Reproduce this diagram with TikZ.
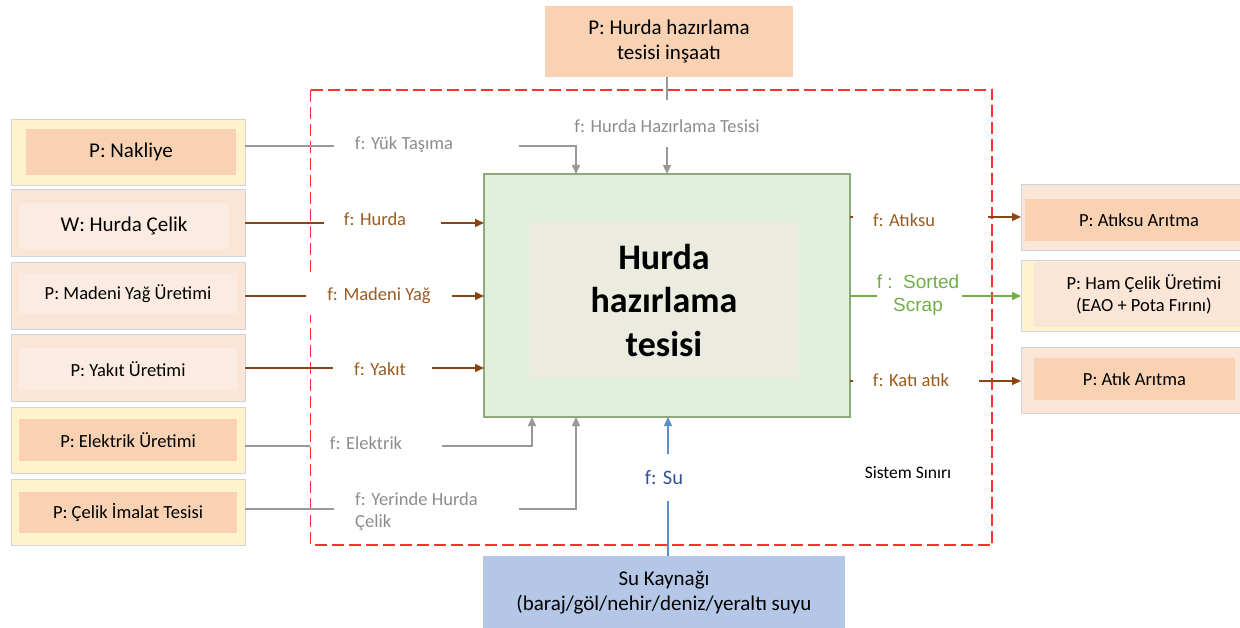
\documentclass[tikz,border=0pt]{standalone}
\usepackage{fontspec}
\setmainfont{Carlito}
\newfontfamily\arialf{Liberation Sans}
\usetikzlibrary{arrows.meta}
\definecolor{cYel}{HTML}{FFF2CC}
\definecolor{cLight}{HTML}{FBE5D6}
\definecolor{cLighter}{HTML}{FCEBE0}
\definecolor{cPeach}{HTML}{F9D2B3}
\definecolor{cBord}{HTML}{CDD4DE}
\definecolor{cGreenF}{HTML}{E2EFDA}
\definecolor{cGreenB}{HTML}{8EA97C}
\definecolor{cBeige}{HTML}{ECEBE0}
\definecolor{cBlueF}{HTML}{B4C7E7}
\definecolor{cGray}{HTML}{999999}
\definecolor{cGrayT}{HTML}{8C8C8C}
\definecolor{cBrown}{HTML}{8B4513}
\definecolor{cBrownT}{HTML}{9A5A20}
\definecolor{cGreen}{HTML}{70AD47}
\definecolor{cBlue}{HTML}{5B8FC9}
\definecolor{cBlueT}{HTML}{2F5597}
\definecolor{cRed}{HTML}{FF3030}
\newcommand\fsBig{\fontsize{21}{25}\selectfont}
\newcommand\fsMid{\fontsize{18.5}{22}\selectfont}
\newcommand\fsLab{\fontsize{18.5}{22}\selectfont}
\newcommand\fsHuge{\fontsize{36}{43.5}\selectfont}
\begin{document}
\begin{tikzpicture}[x=1pt,y=-1pt,
  box/.style={rectangle,inner sep=0pt,outer sep=0pt,draw=none},
  obox/.style={box,draw=cBord,line width=0.8pt,minimum width=234pt},
  arr/.style={-{Triangle[length=9pt,width=8pt]}},
  lab/.style={inner sep=0pt,font=\fsLab},
  glab/.style={lab,text=cGrayT},
  blab/.style={lab,text=cBrownT},
  gline/.style={draw=cGray,line width=1.5pt},
  bline/.style={draw=cBrown,line width=1.5pt},
  grline/.style={draw=cGreen,line width=1.5pt},
  sline/.style={draw=cBlue,line width=1.5pt}]
\useasboundingbox (0,0) rectangle (1240,628);
\clip (0,0) rectangle (1240,628);

% system boundary
\draw[cRed,line width=1.3pt,dash pattern=on 12pt off 5pt] (310.5,90) rectangle (992,545);

% left boxes
\node[obox,fill=cYel,minimum height=66pt] (nak) at (128,152) {};
\node[box,fill=cPeach,minimum width=210pt,minimum height=46pt,font=\fsBig] (nakIn) at (131,152) {P: Nakliye};
\node[obox,fill=cLight,minimum height=67pt] (hc) at (128,222.5) {};
\node[box,fill=cLighter,minimum width=210pt,minimum height=46pt,font=\fsBig] (hcIn) at (124,226) {W: Hurda Çelik};
\node[obox,fill=cLight,minimum height=67pt] (my) at (128,295.5) {};
\node[box,fill=cLighter,minimum width=218pt,minimum height=41pt,font=\fsMid] (myIn) at (128,293.5) {P: Madeni Yağ Üretimi};
\node[obox,fill=cLight,minimum height=67pt] (yk) at (128,367.5) {};
\node[box,fill=cLighter,minimum width=218pt,minimum height=42pt,font=\fsMid] (ykIn) at (128,369) {P: Yakıt Üretimi};
\node[obox,fill=cYel,minimum height=66pt] (el) at (128,440) {};
\node[box,fill=cPeach,minimum width=218pt,minimum height=42pt,font=\fsMid] (elIn) at (128,440) {P: Elektrik Üretimi};
\node[obox,fill=cYel,minimum height=66pt] (ci) at (128,512) {};
\node[box,fill=cPeach,minimum width=218pt,minimum height=41pt,font=\fsMid] (ciIn) at (128,512.5) {P: Çelik İmalat Tesisi};

% top box
\node[box,fill=cPeach,minimum width=248pt,minimum height=71pt,align=center,font=\fsBig] (top) at (669,41.5) {P: Hurda hazırlama\\tesisi inşaatı};

% main box
\node[box,draw=cGreenB,line width=1.5pt,fill=cGreenF,minimum width=366pt,minimum height=243pt] (main) at (667,295.5) {};
\node[box,fill=cBeige,minimum width=270pt,minimum height=155pt,align=center,font=\fsHuge\bfseries] (mainIn) at (664,300.5) {Hurda\\hazırlama\\tesisi};

% right boxes
\node[obox,fill=cLight,minimum width=229pt,minimum height=66pt] (ata) at (1135.5,217) {};
\node[box,fill=cPeach,minimum width=228pt,minimum height=42pt,font=\fsMid] (ataIn) at (1139,220) {P: Atıksu Arıtma};
\node[obox,fill=cYel,minimum width=229pt,minimum height=71pt] (ham) at (1135.5,295.5) {};
\node[box,fill=cLight,minimum width=220pt,minimum height=65pt,align=center,font=\fsMid] (hamIn) at (1144,294.5) {P: Ham Çelik Üretimi\\(EAO + Pota Fırını)};
\node[obox,fill=cLight,minimum width=229pt,minimum height=66pt] (atk) at (1135.5,380) {};
\node[box,fill=cPeach,minimum width=201pt,minimum height=42pt,font=\fsMid] (atkIn) at (1134.5,379) {P: Atık Arıtma};

% water source
\node[box,fill=cBlueF,minimum width=362pt,minimum height=74pt,align=center,font=\fsBig] (su) at (664,593) {Su Kaynağı\\(baraj/göl/nehir/deniz/yeraltı suyu};

% labels
\node[glab] (lYuk) at (404,145) {f: Yük Taşıma};
\node[glab] (lHht) at (667,126) {f: Hurda Hazırlama Tesisi};
\node[blab] (lHurda) at (375,219) {f: Hurda};
\node[blab,fill=white,minimum width=146pt,minimum height=38pt] (lMy) at (379,296) {f: Madeni Yağ};
\node[blab] (lYk) at (380,369) {f: Yakıt};
\node[glab] (lEl) at (366,443) {f: Elektrik};
\node[glab,anchor=west,align=left] (lCi) at (355,511.5) {f: Yerinde Hurda\\Çelik};
\node[lab,text=cBlueT,font=\fontsize{20.5}{24}\selectfont] (lSu) at (664,478) {f: Su};
\node[blab] (lAt) at (904,220) {f: Atıksu};
\node[lab,text=cGreen,align=center,font=\arialf\fontsize{19}{23}\selectfont] (lSort) at (918,295) {f :\ \ Sorted\\Scrap};
\node[blab] (lKa) at (911,380) {f: Katı atık};
\node[lab,text=black,font=\fontsize{17.5}{21}\selectfont] (lSis) at (908,473) {Sistem Sınırı};

% connector break points
\coordinate (yA) at (334,146);  \coordinate (yB) at (519,146);
\coordinate (hA) at (667,100);  \coordinate (hB) at (667,147);
\coordinate (hcA) at (324,223); \coordinate (hcB) at (441,223);
\coordinate (ykA) at (333,368); \coordinate (ykB) at (432,368);
\coordinate (elA) at (310,446); \coordinate (elB) at (442,446);
\coordinate (ciA) at (334,509); \coordinate (ciB) at (519,509);
\coordinate (suA) at (668,501); \coordinate (suB) at (668,454);
\coordinate (tA) at (853,217);  \coordinate (aA) at (988,217);
\coordinate (sA) at (877,296);  \coordinate (sB) at (962,296);
\coordinate (kA) at (853,381);  \coordinate (kB) at (979,381);

% input connectors
\draw[gline] (yA -| nak.east) -- (yA);
\draw[gline,arr] (yB) -| ([xshift=92pt]main.north west);
\draw[gline] (hA |- top.south) -- (hA);
\draw[gline,arr] (hB) -- (main.north);
\draw[bline] (hcA -| hc.east) -- (hcA);
\draw[bline,arr] (hcB) -- (hcB -| main.west);
\draw[bline] (lMy.west -| my.east) -- (lMy.west);
\draw[bline,arr] (lMy.east) -- (lMy.east -| main.west);
\draw[bline] (ykA -| yk.east) -- (ykA);
\draw[bline,arr] (ykB) -- (ykB -| main.west);
\draw[gline] (elA -| el.east) -- (elA);
\draw[gline,arr] (elB) -| ([xshift=48pt]main.south west);
\draw[gline] (ciA -| ci.east) -- (ciA);
\draw[gline,arr] (ciB) -| ([xshift=92pt]main.south west);
\draw[sline] (suA |- su.north) -- (suA);
\draw[sline,arr] (suB) -- (suB |- main.south);

% output connectors
\draw[bline] (tA -| main.east) -- (tA);
\draw[bline,arr] (aA) -- (aA -| ata.west);
\draw[grline] (sA -| main.east) -- (sA);
\draw[grline,arr] (sB) -- (sB -| ham.west);
\draw[bline] (kA -| main.east) -- (kA);
\draw[bline,arr] (kB) -- (kB -| atk.west);
\end{tikzpicture}
\end{document}
